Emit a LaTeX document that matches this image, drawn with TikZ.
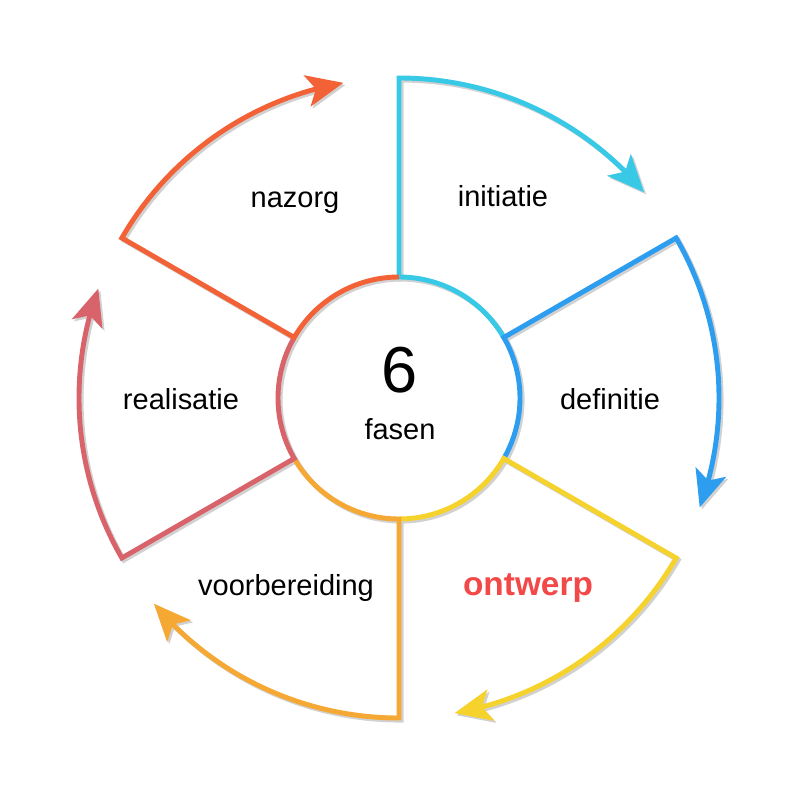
\documentclass[tikz,border=0pt]{standalone}
\usepackage{fontspec}
\setmainfont{Liberation Sans}
\usetikzlibrary{arrows.meta,bending}

\definecolor{initcol}{HTML}{38C9E6}
\definecolor{defcol}{HTML}{2D9DF0}
\definecolor{ontcol}{HTML}{F6D22C}
\definecolor{voorcol}{HTML}{F5A834}
\definecolor{realcol}{HTML}{D9636B}
\definecolor{nazcol}{HTML}{F26236}
\definecolor{ontwerptext}{HTML}{F24848}

\begin{document}
\begin{tikzpicture}[>={Stealth[length=21pt,width=18pt,inset=5pt]},
    phasearc/.style={line width=2.8pt,line join=miter},
    phaseshadow/.style={phasearc,black!18,xshift=1.2pt,yshift=-1.2pt},
    phasetext/.style={font=\fontsize{16.5}{20}\selectfont,anchor=base}]
    \useasboundingbox (-7.98,-8.04) rectangle (8.02,7.96);

    % one sector per phase: inner arc, spoke, outer arc with arrow
    \foreach \a/\c in {90/initcol,30/defcol,-30/ontcol,-90/voorcol,-150/realcol,150/nazcol} {
        \draw[phaseshadow,->] ({\a-60}:2.42) arc[start angle=\a-60,end angle=\a,radius=2.42]
              -- (\a:6.4) arc[start angle=\a,end angle=\a-50,radius=6.4];
    };
    \foreach \a/\c in {90/initcol,30/defcol,-30/ontcol,-90/voorcol,-150/realcol,150/nazcol} {
        \draw[phasearc,\c,->] ({\a-60}:2.42) arc[start angle=\a-60,end angle=\a,radius=2.42]
              -- (\a:6.4) arc[start angle=\a,end angle=\a-50,radius=6.4];
    };

    \node[phasetext] (initiatie)     at (2.08,3.82)   {initiatie};
    \node[phasetext] (definitie)     at (4.22,-0.24)  {definitie};
    \node[phasetext,text=ontwerptext,font=\fontsize{19}{22}\selectfont\bfseries]
                     (ontwerp)       at (2.58,-3.94)  {ontwerp};
    \node[phasetext] (voorbereiding) at (-2.26,-3.94) {voorbereiding};
    \node[phasetext] (realisatie)    at (-4.36,-0.24) {realisatie};
    \node[phasetext] (nazorg)        at (-2.08,3.80)  {nazorg};

    \node[anchor=base,font=\fontsize{37}{40}\selectfont] (aantal) at (0.02,0.10) {6};
    \node[phasetext] (fasen) at (0.02,-0.84) {fasen};
\end{tikzpicture}
\end{document}
